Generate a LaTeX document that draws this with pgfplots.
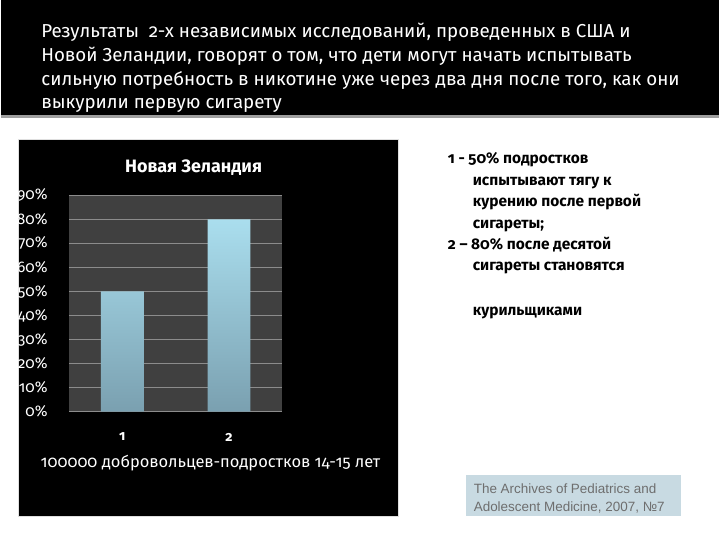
\documentclass[border=0pt]{standalone}
\usepackage{fontspec}
\setmainfont{Fira Sans}[Numbers=OldStyle]
\newfontfamily\citefont{Liberation Sans}
\usepackage{pgfplots}
\pgfplotsset{compat=1.18}

\definecolor{plotbg}{RGB}{64,64,64}
\definecolor{gridgray}{RGB}{140,140,140}
\definecolor{bartop}{RGB}{170,222,238}
\definecolor{barbot}{RGB}{122,160,176}
\definecolor{citebg}{RGB}{200,218,226}
\definecolor{citetext}{RGB}{110,110,110}

\begin{document}
\begin{tikzpicture}[x=1pt,y=1pt]
% slide background
\fill[white] (0,0) rectangle (720,540);
\fill[black] (0,425) rectangle (720,540);
\draw[gray!75, line width=2.5pt] (0,423) -- (720,423);

% heading text
\begin{scope}[every node/.style={anchor=base west, inner sep=0pt, text=white, font=\fontsize{18.8}{18.8}\selectfont}]
\node at (40,502) {Результаты \ 2-х независимых исследований, проведенных в США и};
\node at (40,478) {Новой Зеландии, говорят о том, что дети могут начать испытывать};
\node at (40,454) {сильную потребность в никотине уже через два дня после того, как они};
\node at (40,431) {выкурили первую сигарету};
\end{scope}

% chart panel
\fill[black] (17,22) rectangle (398,400);
\draw[gray!25, line width=0.5pt] (17,22) rectangle (398,400);
\node[text=white, font=\bfseries\fontsize{18}{18}\selectfont] at (193,372) {Новая Зеландия};
\node[text=white, font=\fontsize{16.5}{16.5}\selectfont] at (210,75) {100000 добровольцев-подростков 14-15 лет};

\begin{axis}[
    at={(68pt,127pt)}, anchor=south west,
    width=214pt, height=217pt, scale only axis,
    xmin=0.5, xmax=2.5, ymin=0, ymax=90,
    xtick={1,2},
    ytick={0,10,20,30,40,50,60,70,80,90},
    yticklabel={\pgfmathprintnumber{\tick}\%},
    /pgf/number format/assume math mode=true,
    tick label style={text=white, font=\fontsize{15.5}{15.5}\selectfont},
    xticklabel style={yshift=-18pt, font=\bfseries\fontsize{14}{14}\selectfont},
    yticklabel style={xshift=-18pt},
    axis background/.style={fill=plotbg},
    axis line style={draw=none},
    major tick length=0pt,
    ymajorgrids, grid style={gridgray, line width=0.7pt},
]
\addplot[ybar, bar width=43pt, draw=none, top color=bartop, bottom color=barbot]
    coordinates {(1,50) (2,80)};
\end{axis}

% notes on the right
\begin{scope}[every node/.style={anchor=base west, inner sep=0pt, text=black, font=\bfseries\fontsize{15.5}{15.5}\selectfont}]
\node at (448,376) {1 - 50\% подростков};
\node at (473,354) {испытывают тягу к};
\node at (473,333) {курению после первой};
\node at (473,311) {сигареты;};
\node at (448,290) {2 – 80\% после десятой};
\node at (473,269) {сигареты становятся};
\node at (473,223) {курильщиками};
\end{scope}

% citation box
\fill[citebg] (466,22) rectangle (682,63);
\node[anchor=base west, inner sep=0pt, text=citetext, font=\citefont\fontsize{13.5}{13.5}\selectfont] at (474,45) {The Archives of Pediatrics and};
\node[anchor=base west, inner sep=0pt, text=citetext, font=\citefont\fontsize{13.5}{13.5}\selectfont] at (474,27) {Adolescent Medicine, 2007, №7};
\end{tikzpicture}
\end{document}
